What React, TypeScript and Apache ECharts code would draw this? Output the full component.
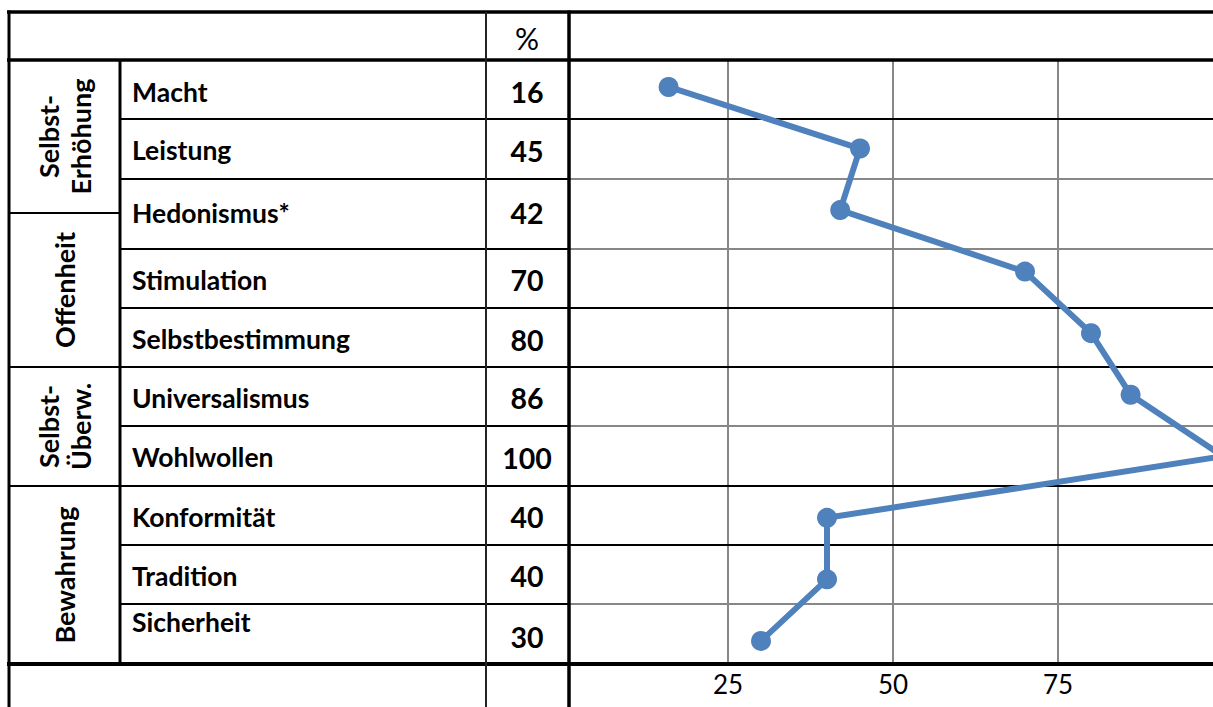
import React, { useEffect, useRef } from "react";
import * as echarts from "echarts";

// ---- data ----
const categories = [
  "Macht",
  "Leistung",
  "Hedonismus*",
  "Stimulation",
  "Selbstbestimmung",
  "Universalismus",
  "Wohlwollen",
  "Konformität",
  "Tradition",
  "Sicherheit",
];
const values = [16, 45, 42, 70, 80, 86, 100, 40, 40, 30];
const groups = ["Selbst-\nErhöhung", "Offenheit", "Selbst-\nÜberw.", "Bewahrung"];
const xTickLabels = [25, 50, 75];
const headerLabel = "%";

// ---- layout (pixels) ----
const rowLines = [60, 119, 179, 249, 308, 367, 426, 486, 545, 604, 664];
const chartRowGray = [false, true, true, false, false, true, false, false, true];
const groupBounds = [60, 213, 367, 486, 664];
const nameY = [92, 150, 213, 280, 339, 398, 457, 517, 576, 622];
const valueY = [92, 151, 213, 280, 340, 398, 458, 517, 576, 637];

const BLUE = "#4F81BD";
const GRAY = "#878787";
const FONT = "Lato, 'Noto Sans', sans-serif";

export default function App() {
  const ref = useRef<HTMLDivElement>(null);

  useEffect(() => {
    if (!ref.current) return;
    const chart = echarts.init(ref.current, undefined, { renderer: "svg" });

    const graphics: any[] = [];
    const ln = (x1: number, y1: number, x2: number, y2: number, w: number, c = "#000") =>
      graphics.push({
        type: "line",
        z: 1,
        silent: true,
        shape: { x1, y1, x2, y2 },
        style: { stroke: c, lineWidth: w },
      });

    // horizontal table lines
    ln(7, 12, 1240, 12, 3.5);
    ln(7, 60, 1240, 60, 3.5);
    ln(7, 664, 1240, 664, 4);
    for (let i = 1; i < rowLines.length - 1; i++) {
      const y = rowLines[i];
      ln(120, y, 569, y, 2);
      ln(569, y, 1240, y, 2, chartRowGray[i - 1] ? GRAY : "#000");
    }
    for (let i = 1; i < groupBounds.length - 1; i++) {
      ln(8, groupBounds[i], 120, groupBounds[i], 2);
    }
    // vertical table lines
    ln(9, 10.5, 9, 707, 3);
    ln(120, 60, 120, 664, 3);
    ln(486, 12, 486, 707, 2, "#222");
    ln(569, 10.5, 569, 707, 3.5);

    // header
    graphics.push({
      type: "text",
      z: 3,
      x: 527,
      y: 38,
      style: {
        text: headerLabel,
        fontFamily: FONT,
        fontSize: 30,
        fill: "#000",
        align: "center",
        verticalAlign: "middle",
      },
    });

    // names and values
    categories.forEach((c, i) => {
      graphics.push({
        type: "text",
        z: 3,
        x: 132,
        y: nameY[i],
        style: {
          text: c,
          fontFamily: FONT,
          fontWeight: "bold",
          fontSize: 26.5,
          fill: "#000",
          align: "left",
          verticalAlign: "middle",
        },
      });
      graphics.push({
        type: "text",
        z: 3,
        x: 527,
        y: valueY[i],
        style: {
          text: String(values[i]),
          fontFamily: FONT,
          fontWeight: "bold",
          fontSize: 28.5,
          fill: "#000",
          align: "center",
          verticalAlign: "middle",
        },
      });
    });

    // group labels (rotated)
    groups.forEach((g, i) => {
      graphics.push({
        type: "text",
        z: 3,
        x: 64,
        y: (groupBounds[i] + groupBounds[i + 1]) / 2,
        rotation: Math.PI / 2,
        style: {
          text: g,
          fontFamily: FONT,
          fontWeight: "bold",
          fontSize: 27,
          lineHeight: 32,
          fill: "#000",
          align: "center",
          verticalAlign: "middle",
        },
      });
    });

    chart.setOption({
      animation: false,
      backgroundColor: "#fff",
      grid: [
        { left: 563, top: 60, width: 660, height: 604 },
        { left: 563, top: 56.2, width: 660, height: 615.5 },
      ],
      xAxis: [
        {
          gridIndex: 0,
          type: "value",
          min: 0,
          max: 100,
          interval: 25,
          axisLine: { show: false },
          axisTick: { show: false },
          splitLine: {
            show: true,
            showMinLine: false,
            showMaxLine: false,
            lineStyle: { color: GRAY, width: 2 },
          },
          axisLabel: {
            margin: 7,
            fontFamily: FONT,
            fontSize: 26,
            color: "#000",
            formatter: (v: number) => (xTickLabels.includes(v) ? String(v) : ""),
          },
        },
        { gridIndex: 1, type: "value", min: 0, max: 100, show: false },
      ],
      yAxis: [
        { gridIndex: 0, type: "value", show: false },
        { gridIndex: 1, type: "category", data: categories, inverse: true, show: false },
      ],
      graphic: graphics,
      series: [
        {
          type: "line",
          xAxisIndex: 1,
          yAxisIndex: 1,
          data: values,
          z: 5,
          clip: false,
          symbol: "circle",
          symbolSize: 20,
          lineStyle: { color: BLUE, width: 6 },
          itemStyle: { color: BLUE },
        },
      ],
    });

    return () => chart.dispose();
  }, []);

  return (
    <div
      style={{
        position: "absolute",
        left: 0,
        top: 0,
        width: 1213,
        height: 707,
        overflow: "hidden",
        background: "#fff",
      }}
    >
      <div ref={ref} style={{ width: 1245, height: 707 }} />
    </div>
  );
}
